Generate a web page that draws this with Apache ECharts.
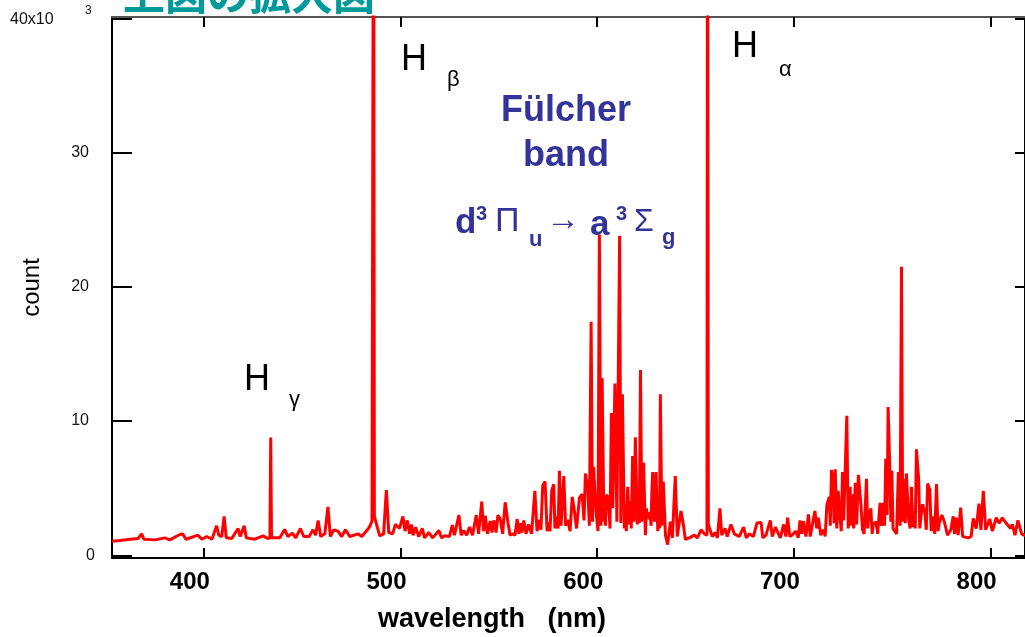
<!DOCTYPE html>
<html><head><meta charset="utf-8">
<script src="https://cdn.jsdelivr.net/npm/echarts/dist/echarts.min.js"></script>
<style>html,body{margin:0;padding:0;background:#fff}#c{width:1025px;height:637px}</style>
</head><body><div id="c"></div>
<script>
// wavelength (nm), count (x10^3)
const spec350_410 = [[353.3,1.05],[357.3,1.1],[362.4,1.2],[366.5,1.25],[368.4,1.6],[369.5,1.2],[375.1,1.15],[380.2,1.3],[382.7,1.15],[387.8,1.55],[389.2,1.6],[390.9,1.2],[397.0,1.5],[399.0,1.2],[401.4,1.4],[404.1,1.2],[406.5,2.2],[407.6,1.5],[409.1,1.4],[410.3,2.9]];
const spec410_505 = [[411.4,1.3],[414.2,1.25],[417.4,2.0],[418.5,1.4],[420.5,2.2],[421.6,1.3],[425.9,1.2],[430.1,1.45],[432.5,1.25],[433.6,1.3],[434.0,8.77],[434.4,1.3],[438.6,1.3],[441.1,1.93],[442.7,1.4],[445.0,1.65],[446.7,1.3],[449.1,2.0],[450.8,1.4],[453.5,1.4],[455.5,1.9],[456.8,1.5],[458.1,2.6],[459.4,1.4],[461.5,1.6],[463.1,3.6],[464.3,1.4],[466.0,1.9],[468.2,1.8],[470.1,1.4],[472.0,1.9],[474.2,1.4],[478.4,1.6],[480.3,1.4],[484.0,2.05],[485.5,2.55],[485.9,2.5],[486.3,60],[486.7,2.9],[487.7,2.9],[489.4,1.45],[491.4,1.6],[492.8,4.85],[494.0,1.7],[496.0,1.6],[497.4,2.3],[499.5,2.0],[501.2,2.9],[502.3,1.8],[503.4,2.6],[504.6,1.6]];
const spec505_600 = [[505.5,2.3],[506.4,1.5],[507.7,2.1],[509.2,1.4],[511.1,2.0],[512.2,1.3],[514.4,1.7],[516.3,1.3],[519.5,1.85],[520.8,1.3],[522.4,1.45],[524.9,1.4],[526.3,2.25],[527.4,1.5],[529.7,3.0],[530.8,1.5],[532.1,1.85],[533.6,1.5],[535.1,2.1],[536.6,1.5],[538.5,3.0],[539.7,1.6],[541.3,4.0],[542.2,1.8],[543.1,2.95],[544.2,1.6],[545.6,2.55],[546.5,1.7],[547.4,2.6],[548.6,1.7],[549.5,3.0],[550.7,2.7],[551.9,1.6],[553.2,3.95],[554.6,2.45],[555.7,1.5],[557.1,1.6],[558.2,1.5],[559.3,2.7],[560.2,1.6],[561.0,2.4],[561.7,1.7],[562.7,2.6],[563.8,1.6],[565.1,2.3],[566.6,1.6],[568.3,4.8],[569.4,1.8],[570.7,2.65],[571.4,1.9],[572.3,5.2],[573.5,5.5],[574.5,1.8],[575.2,2.45],[576.0,1.8],[576.9,4.85],[577.9,5.3],[578.5,2.0],[579.1,2.9],[580.1,2.0],[580.8,6.3],[581.6,2.2],[583.0,5.9],[583.9,2.2],[585.0,2.65],[586.2,1.8],[587.3,4.35],[588.4,3.3],[589.5,2.0],[591.0,4.3],[592.3,4.55],[593.3,2.6],[594.0,6.1],[595.2,5.1],[596.0,2.2],[596.9,17.4],[597.6,2.5],[598.1,6.6],[599.5,3.1],[600.4,1.8]];
const spec600_651 = [[601.1,23.9],[601.9,2.2],[602.5,13.2],[603.4,2.5],[603.9,3.8],[604.2,2.2],[604.7,4.5],[605.7,4.3],[606.5,2.0],[607.2,10.6],[607.9,3.5],[609.0,12.8],[610.0,2.5],[611.4,23.8],[612.0,2.4],[612.8,12.0],[613.8,2.0],[614.3,3.0],[614.8,1.8],[615.5,5.1],[616.3,2.3],[616.8,4.0],[617.3,2.0],[618.0,7.4],[618.7,2.5],[619.4,8.8],[620.4,2.3],[620.9,4.5],[621.4,2.4],[622.0,13.8],[622.7,2.5],[623.6,6.9],[624.5,1.5],[625.0,3.5],[625.7,2.7],[626.9,3.2],[627.4,2.2],[627.8,4.8],[628.2,6.2],[629.1,2.5],[629.9,6.2],[630.8,1.8],[631.3,3.5],[631.7,2.0],[632.1,12.0],[632.9,2.2],[633.6,5.5],[634.7,1.5],[635.8,0.8],[636.4,1.5],[637.2,2.5],[638.2,1.3],[639.7,5.9],[640.7,1.4],[642.6,3.3],[643.8,2.3],[644.8,1.2],[646.8,1.3],[649.4,1.5],[650.9,1.3]];
const spec651_706 = [[652.8,1.9],[654.5,1.6],[655.8,1.5],[656.1,60],[656.5,2.3],[657.5,2.3],[658.5,1.4],[660.0,1.7],[661.1,1.3],[662.4,3.5],[663.3,1.5],[665.0,2.0],[666.1,1.4],[668.0,2.3],[669.7,1.6],[672.2,1.4],[674.4,2.1],[675.8,1.3],[677.3,1.6],[679.4,1.4],[681.2,2.4],[683.3,2.45],[684.2,1.3],[685.8,1.5],[688.0,2.6],[689.0,1.4],[690.6,2.1],[691.7,1.75],[693.1,1.3],[694.8,2.3],[695.9,1.4],[696.8,2.8],[697.9,1.4],[699.0,1.5],[701.0,1.8],[702.2,1.3],[703.1,2.6],[704.0,1.6],[704.8,2.55]];
const spec706_818 = [[706.1,1.4],[707.4,3.05],[708.3,1.4],[709.2,1.3],[710.7,3.3],[711.6,2.0],[712.4,2.8],[713.7,1.5],[715.1,1.9],[715.9,1.4],[716.8,3.8],[718.0,4.35],[718.5,2.2],[719.1,6.35],[720.0,5.5],[720.4,2.4],[721.0,6.4],[721.8,2.0],[722.5,4.8],[723.4,2.9],[724.1,1.8],[724.7,6.2],[725.3,2.6],[726.0,5.95],[726.9,10.4],[727.6,2.0],[728.1,2.9],[728.6,5.1],[729.1,2.2],[729.8,4.55],[730.4,2.0],[731.2,5.4],[731.9,2.3],[732.8,6.0],[734.0,3.95],[734.9,1.9],[735.7,1.6],[736.9,5.7],[737.5,2.0],[737.9,2.6],[739.1,3.5],[739.8,1.6],[740.3,2.3],[741.7,2.5],[742.6,1.6],[743.8,3.9],[744.6,2.2],[745.4,3.9],[746.1,2.2],[746.7,7.2],[747.4,3.0],[747.9,11.05],[748.8,6.2],[749.3,2.5],[749.8,6.3],[750.4,2.0],[751.3,2.1],[752.2,1.6],[753.1,6.2],[754.0,2.2],[754.7,21.5],[755.3,2.5],[756.1,5.7],[756.6,2.4],[757.2,6.1],[758.3,2.7],[759.1,2.0],[759.8,5.1],[760.4,2.1],[761.2,3.3],[761.7,2.0],[762.3,7.9],[763.4,5.75],[764.0,2.0],[764.6,2.9],[765.4,3.8],[766.6,3.2],[767.3,1.9],[768.0,5.35],[769.1,4.9],[769.8,1.8],[770.5,2.9],[771.6,1.6],[772.5,5.3],[773.3,1.8],[773.9,2.4],[775.2,3.0],[776.5,2.5],[778.1,1.5],[779.8,1.9],[781.0,2.9],[781.7,1.6],[782.6,2.8],[783.5,1.5],[784.8,3.55],[785.8,1.4],[786.5,1.5],[788.7,1.3],[790.1,1.4],[791.2,2.75],[792.7,2.0],[794.1,3.85],[795.1,1.9],[796.3,4.8],[797.5,1.9],[799.6,2.7],[800.9,1.8],[802.9,2.8],[804.3,2.4],[806.0,2.8],[806.8,2.6],[808.5,2.3],[810.2,2.0],[811.1,2.3],[812.4,1.5],[813.9,2.6],[814.8,2.7],[815.8,1.6],[817.0,1.5],[817.5,1.5]];
const xTicks = [400, 500, 600, 700, 800];
const yTicks = [0, 10, 20, 30, 40];

const spectrum = [].concat(spec350_410, spec410_505, spec505_600, spec600_651, spec651_706, spec706_818);

const chart = echarts.init(document.getElementById('c'), null, {renderer: 'canvas'});
const F = '"Liberation Sans", Arial, sans-serif';
const navy = '#333399';
function txt(text, x, y, size, opts) {
  opts = opts || {};
  return {type: 'text', x: x, y: y, silent: true, z: 100,
    style: {text: text, font: (opts.weight || 'normal') + ' ' + size + 'px ' + (opts.family || F),
      fill: opts.color || '#000', textAlign: opts.align || 'left', textVerticalAlign: 'middle'}};
}
chart.setOption({
  animation: false,
  backgroundColor: '#fff',
  grid: {left: 112, top: 17, width: 913.5, height: 541, containLabel: false},
  xAxis: [{
    type: 'value', min: 353.3, max: 817.5, position: 'bottom',
    axisLine: {show: true, onZero: false, lineStyle: {color: '#000', width: 2}},
    axisTick: {show: true, inside: true, length: 10, customValues: xTicks, lineStyle: {color: '#000', width: 2}},
    axisLabel: {show: true, customValues: xTicks, margin: 12, padding: [0, 28, 0, 0], color: '#000', fontFamily: F, fontSize: 24, fontWeight: 'bold'},
    splitLine: {show: false}
  }, {
    type: 'value', min: 353.3, max: 817.5, position: 'top',
    axisLine: {show: true, onZero: false, lineStyle: {color: '#555', width: 2}},
    axisTick: {show: true, inside: true, length: 10, customValues: xTicks, lineStyle: {color: '#000', width: 2}},
    axisLabel: {show: false}, splitLine: {show: false}
  }],
  yAxis: [{
    type: 'value', min: -0.2, max: 40.1, position: 'left',
    axisLine: {show: true, onZero: false, lineStyle: {color: '#000', width: 2}},
    axisTick: {show: true, inside: true, length: 20, customValues: yTicks, lineStyle: {color: '#000', width: 2}},
    axisLabel: {show: true, customValues: yTicks, margin: 17, color: '#111', fontFamily: F, fontSize: 16,
      formatter: v => (v === 40 ? '' : v === 0 ? '0' : '{p|' + v + '}'),
      rich: {p: {fontFamily: F, fontSize: 16, color: '#111', padding: [0, 6, 0, 0]}}},
    name: 'count', nameLocation: 'middle', nameGap: 68, nameRotate: 90,
    nameTextStyle: {color: '#000', fontFamily: F, fontSize: 24},
    splitLine: {show: false}
  }, {
    type: 'value', min: -0.2, max: 40.1, position: 'right',
    axisLine: {show: true, onZero: false, lineStyle: {color: '#000', width: 2}},
    axisTick: {show: true, inside: true, length: 10, customValues: yTicks, lineStyle: {color: '#000', width: 2}},
    axisLabel: {show: false}, splitLine: {show: false}
  }],
  series: [{
    type: 'line', xAxisIndex: 0, yAxisIndex: 0, data: spectrum,
    showSymbol: false, symbol: 'none', clip: true,
    lineStyle: {color: '#ff0000', width: 3}
  }],
  graphic: [
    {type: 'text', x: 123, y: 15, silent: true, z: 100,
      style: {text: '上図の拡大図', font: 'bold 42px "Noto Sans CJK JP", sans-serif', fill: '#009a9a',
        textAlign: 'left', textVerticalAlign: 'bottom'}},
    txt('40x10', 10, 20, 16, {color: '#111'}),
    txt('3', 85, 11, 12, {color: '#111'}),
    txt('wavelength   (nm)', 492, 620, 27, {weight: 'bold', align: 'center'}),
    txt('H', 401, 60, 36),
    txt('β', 447, 80, 22),
    txt('H', 732, 47, 36),
    txt('α', 779, 70, 22),
    txt('H', 244, 380, 36),
    txt('γ', 289, 400, 22),
    txt('Fülcher', 566, 111, 36, {weight: 'bold', align: 'center', color: navy}),
    txt('band', 566, 156, 36, {weight: 'bold', align: 'center', color: navy}),
    txt('d', 455, 223, 35, {weight: 'bold', color: navy}),
    txt('3', 476, 214, 20, {weight: 'bold', color: navy}),
    txt('Π', 495, 222, 34, {color: navy}),
    txt('u', 529, 240, 22, {weight: 'bold', color: navy}),
    txt('→', 546, 221, 34, {color: navy}),
    txt('a', 590, 225, 35, {weight: 'bold', color: navy}),
    txt('3', 616, 214, 20, {weight: 'bold', color: navy}),
    txt('Σ', 634, 222, 32, {color: navy}),
    txt('g', 662, 238, 22, {weight: 'bold', color: navy})
  ]
});
</script></body></html>
